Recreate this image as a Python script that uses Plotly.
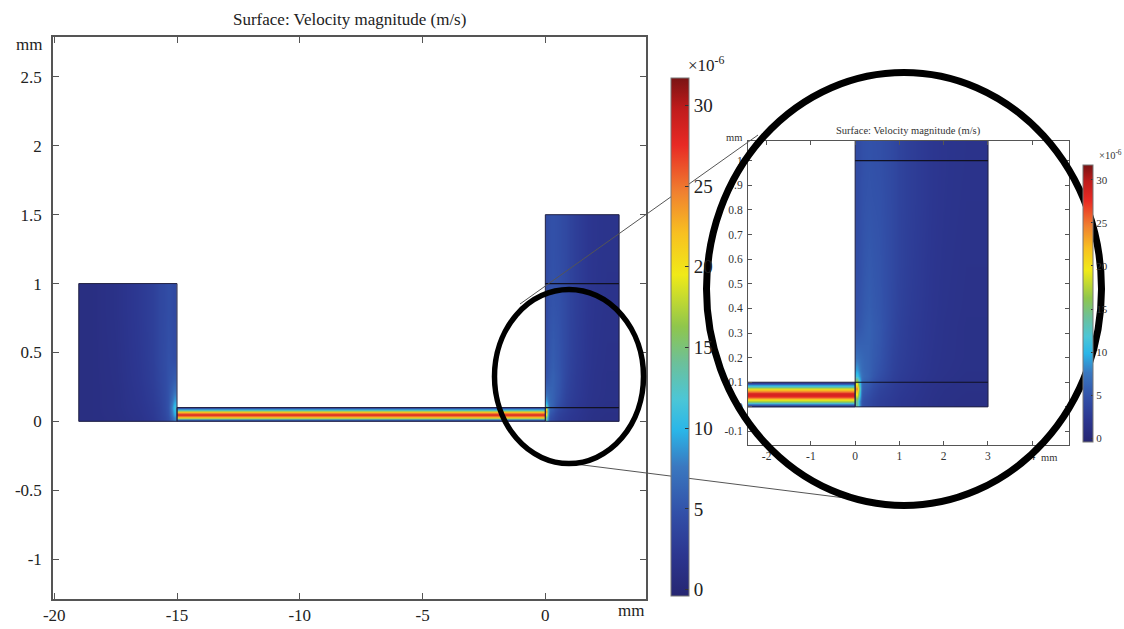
import plotly.graph_objects as go

W, H = 1124, 629

# ---------------- geometry (mm) ----------------
left_res_x = [-19, -15]
left_res_y = [0, 1.0]
channel_x = [-15, 0]
channel_y = [0, 0.1]
right_res_x = [0, 3]
right_res_y = [0, 1.5]
inner_lines_y = [0.1, 1.0]

# ---------------- velocity magnitude readings (x1e-6 m/s) ----------------
left_x_edges = [-19, -18, -17, -16, -15.5, -15.2, -15]
left_y_edges = [0, 0.05, 0.15, 0.3, 0.6, 1.0]
left_z = [
    [1.0, 1.2, 1.8, 3.0, 4.5, 8.0],
    [1.0, 1.3, 2.0, 3.2, 5.0, 11.0],
    [1.0, 1.3, 2.2, 3.5, 5.0, 7.0],
    [1.0, 1.4, 2.4, 3.8, 4.8, 4.5],
    [1.0, 1.5, 2.5, 3.8, 4.5, 4.0],
]

chan_x_edges = [-15, -7.5, 0]
chan_y_edges = [0, 0.01, 0.02, 0.03, 0.04, 0.05, 0.06, 0.07, 0.08, 0.09, 0.1]
chan_profile = [3, 11, 18, 23.5, 28.5, 28.5, 23.5, 18, 11, 3]

right_x_edges = [0, 0.08, 0.2, 0.4, 0.7, 1.0, 1.5, 2.0, 3.0]
right_y_edges = [0, 0.05, 0.1, 0.15, 0.25, 0.4, 0.7, 1.0, 1.5]
right_z = [
    [14.0, 5.0, 4.0, 3.0, 2.5, 2.0, 1.5, 1.2],
    [24.0, 6.0, 5.0, 3.5, 2.8, 2.2, 1.6, 1.3],
    [11.0, 7.0, 6.0, 4.5, 3.2, 2.4, 1.8, 1.4],
    [7.0, 6.5, 6.0, 5.0, 3.5, 2.6, 1.9, 1.5],
    [5.0, 5.5, 6.0, 5.2, 3.8, 2.7, 2.0, 1.5],
    [4.5, 5.0, 5.5, 5.0, 4.0, 2.9, 2.1, 1.6],
    [4.2, 4.8, 5.0, 4.8, 4.0, 3.0, 2.2, 1.7],
    [4.2, 4.6, 4.8, 4.5, 4.0, 3.0, 2.2, 1.8],
]

cbar_ticks = [0, 5, 10, 15, 20, 25, 30]
main_xticks = [-20, -15, -10, -5, 0]
main_yticks = [-1, -0.5, 0, 0.5, 1, 1.5, 2, 2.5]
inset_xticks = [-2, -1, 0, 1, 2, 3, 4]
inset_yticks = [-0.1, 0, 0.1, 0.2, 0.3, 0.4, 0.5, 0.6, 0.7, 0.8, 0.9, 1]

colorscale = [
    [0.00, '#262672'],
    [0.08, '#2c3690'],
    [0.16, '#3250a8'],
    [0.25, '#3a78c0'],
    [0.32, '#2ab6e8'],
    [0.38, '#4cc6d6'],
    [0.45, '#6cc09a'],
    [0.52, '#8fc64c'],
    [0.62, '#f0ea18'],
    [0.70, '#f8c020'],
    [0.78, '#f08030'],
    [0.87, '#e82a24'],
    [0.94, '#c01c1c'],
    [1.00, '#7a1414'],
]
CMIN, CMAX = -0.4, 31.7
SERIF = 'Liberation Serif'

fig = go.Figure()

chan_z = [[v, v] for v in chan_profile]


def rect(xs, ys):
    return ([xs[0], xs[1], xs[1], xs[0], xs[0]],
            [ys[0], ys[0], ys[1], ys[1], ys[0]])


for xa, ya, ca in [('x', 'y', 'coloraxis'), ('x2', 'y2', 'coloraxis2')]:
    for xe, ye, zz in [(left_x_edges, left_y_edges, left_z),
                       (chan_x_edges, chan_y_edges, chan_z),
                       (right_x_edges, right_y_edges, right_z)]:
        fig.add_trace(go.Heatmap(x=xe, y=ye, z=zz, zsmooth='best', coloraxis=ca,
                                 xaxis=xa, yaxis=ya, hoverinfo='skip'))
    for xs, ys in [rect(left_res_x, left_res_y), rect(channel_x, channel_y),
                   rect(right_res_x, right_res_y)]:
        fig.add_trace(go.Scatter(x=xs, y=ys, mode='lines', xaxis=xa, yaxis=ya,
                                 line=dict(color='#222244', width=1), showlegend=False,
                                 hoverinfo='skip'))
    for h in inner_lines_y:
        fig.add_trace(go.Scatter(x=right_res_x, y=[h, h], mode='lines', xaxis=xa, yaxis=ya,
                                 line=dict(color='#111122', width=1.2), showlegend=False,
                                 hoverinfo='skip'))


def px(x):
    return x / W


def py(y):
    return (H - y) / H


axis_common = dict(showgrid=False, zeroline=False, showline=True, linecolor='#555',
                   ticks='inside', mirror='allticks', tickcolor='#555', automargin=False)

fig.update_layout(
    width=W, height=H, margin=dict(l=0, r=0, t=0, b=0, autoexpand=False),
    paper_bgcolor='white', plot_bgcolor='white', showlegend=False,
    xaxis=dict(domain=[px(53), px(646)], range=[-20.05, 4.1], anchor='y',
               tickvals=main_xticks, ticktext=[str(v) for v in main_xticks],
               ticklen=6, linewidth=1.5,
               tickfont=dict(family=SERIF, size=17, color='#222'), **axis_common),
    yaxis=dict(domain=[py(599), py(37)], range=[-1.29, 2.79], anchor='x',
               tickvals=main_yticks, ticktext=[f'{v:g}' for v in main_yticks],
               ticklen=6, linewidth=1.5, ticklabelstandoff=6,
               tickfont=dict(family=SERIF, size=17, color='#222'), **axis_common),
    xaxis2=dict(domain=[px(748), px(1069)], range=[-2.42, 4.83], anchor='y2',
                tickvals=inset_xticks, ticktext=[str(v) for v in inset_xticks],
                ticklen=4, linewidth=1,
                tickfont=dict(family=SERIF, size=11.5, color='#333'), **axis_common),
    yaxis2=dict(domain=[py(445), py(141)], range=[-0.155, 1.08], anchor='x2',
                tickvals=inset_yticks, ticktext=[f'{v:g}' for v in inset_yticks],
                ticklen=4, linewidth=1, ticklabelstandoff=2,
                tickfont=dict(family=SERIF, size=11.5, color='#333'), **axis_common),
    coloraxis=dict(colorscale=colorscale, cmin=CMIN, cmax=CMAX,
                   colorbar=dict(x=px(671), xanchor='left', y=py((78 + 596) / 2), yanchor='middle',
                                 len=(596 - 78) / H, lenmode='fraction', thickness=18,
                                 thicknessmode='pixels', xpad=0, ypad=0, outlinewidth=1,
                                 outlinecolor='#777', ticks='inside', ticklen=4, tickcolor='#333',
                                 tickvals=cbar_ticks, ticktext=[str(v) for v in cbar_ticks],
                                 tickfont=dict(family=SERIF, size=19, color='#222'))),
    coloraxis2=dict(colorscale=colorscale, cmin=CMIN, cmax=CMAX,
                    colorbar=dict(x=px(1083), xanchor='left', y=py((165 + 442) / 2), yanchor='middle',
                                  len=(442 - 165) / H, lenmode='fraction', thickness=10,
                                  thicknessmode='pixels', xpad=0, ypad=0, outlinewidth=1,
                                  outlinecolor='#777', ticks='inside', ticklen=2, tickcolor='#333',
                                  tickvals=cbar_ticks, ticktext=[str(v) for v in cbar_ticks],
                                  tickfont=dict(family=SERIF, size=11, color='#333'))),
)

ann = []


def add_text(text, x, y, size, xanchor='center', color='#222'):
    ann.append(dict(text=text, x=px(x), y=py(y), xref='paper', yref='paper', showarrow=False,
                    xanchor=xanchor, yanchor='middle', font=dict(family=SERIF, size=size, color=color)))


add_text('Surface: Velocity magnitude (m/s)', 349.5, 20, 17)
add_text('mm', 44, 44, 17, xanchor='right')
add_text('mm', 631, 610, 17)
add_text('×10<sup>-6</sup>', 707, 64, 17)
add_text('Surface: Velocity magnitude (m/s)', 908, 131, 10.5, color='#333')
add_text('mm', 744, 137, 10.5, xanchor='right', color='#333')
add_text('mm', 1049, 457, 10.5, color='#333')
add_text('×10<sup>-6</sup>', 1110, 155, 10.5, color='#333')
fig.update_layout(annotations=ann)

shapes = [
    dict(type='line', xref='paper', yref='paper', x0=px(520), y0=py(304), x1=px(758), y1=py(135),
         line=dict(color='#555', width=1)),
    dict(type='line', xref='paper', yref='paper', x0=px(567), y0=py(463), x1=px(845), y1=py(498),
         line=dict(color='#555', width=1)),
    dict(type='circle', xref='paper', yref='paper', x0=px(494.5), x1=px(643.5),
         y0=py(463.5), y1=py(289.5), line=dict(color='black', width=5.5)),
    dict(type='circle', xref='paper', yref='paper', x0=px(706.5), x1=px(1101.5),
         y0=py(505.5), y1=py(72.5), line=dict(color='black', width=7)),
]
fig.update_layout(shapes=shapes)

fig.write_html('out.html')
